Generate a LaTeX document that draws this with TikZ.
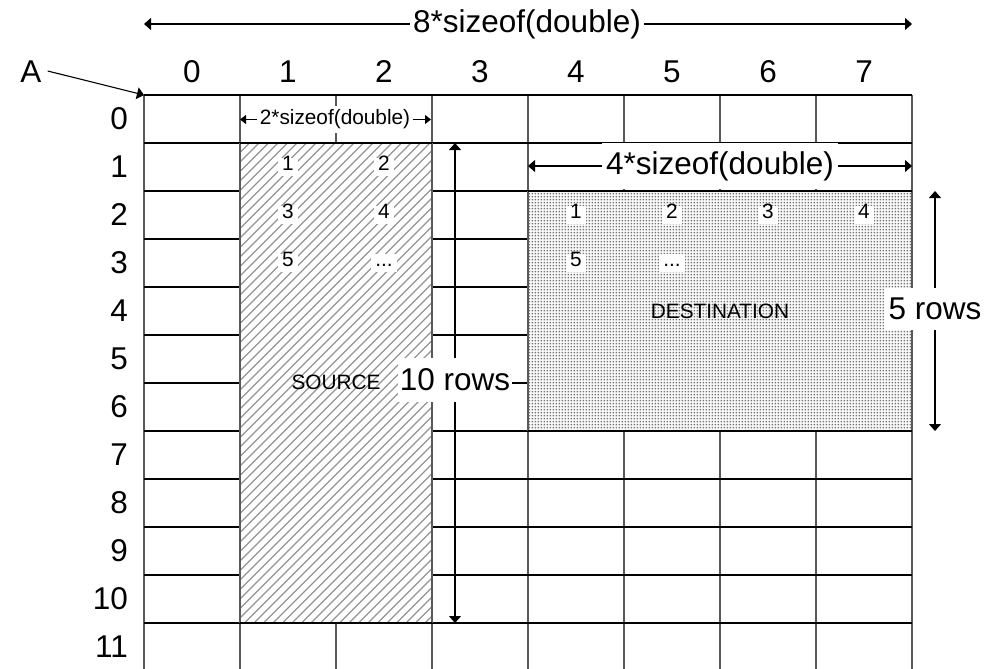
\documentclass[tikz,border=0pt]{standalone}
\usepackage{fontspec}
\setmainfont{Liberation Sans}
\usetikzlibrary{arrows.meta,patterns}
\pgfdeclarepatternformonly{sqdots}{\pgfpointorigin}{\pgfqpoint{3.3pt}{3.3pt}}{\pgfqpoint{3.3pt}{3.3pt}}{%
  \pgfpathrectangle{\pgfqpoint{0.7pt}{0.7pt}}{\pgfqpoint{1.9pt}{1.9pt}}\pgfusepath{fill}}
\begin{document}
\begin{tikzpicture}[x=1pt,y=-1pt,
  hl/.style={line width=1.2pt,black},
  vl/.style={line width=1.3pt,black!65},
  hatchline/.style={line width=1.2pt,black!42},
  big/.style={font=\fontsize{31.5}{36}\selectfont,inner sep=0pt},
  small/.style={font=\fontsize{20.8}{24}\selectfont,inner sep=0pt},
  lab/.style={big,fill=white,inner xsep=3pt,inner ysep=5pt},
  cellnum/.style={small,fill=white,inner xsep=4pt,inner ysep=5pt,text height=0.72em,text depth=0pt},
  arr/.style={line width=1.1pt,-{Triangle[length=7pt,width=12pt]}},
  sarr/.style={line width=1pt,-{Triangle[length=6pt,width=9pt]}}
]
\useasboundingbox (0,0) rectangle (985,669);
\fill[white] (0,0) rectangle (985,669);

% grid
\foreach \i in {0,...,8} \draw[vl] ({144+96*\i},95) -- ({144+96*\i},669);
\foreach \j in {0,...,11} \draw[hl] (144,{95+48*\j}) -- (912,{95+48*\j});

% source region
\fill[white] (240,143) rectangle (432,623);
\begin{scope}
  \clip (240,143) rectangle (432,623);
  \foreach \k in {0,...,72} \draw[hatchline] ({-240+9.5*\k},623) -- ++(480,-480);
\end{scope}
\draw[vl] (240,143) -- (240,623);
\draw[vl] (432,143) -- (432,623);
\draw[hl] (240,143) -- (432,143);
\draw[hl] (240,623) -- (432,623);

% destination region
\fill[white] (528,191) rectangle (912,431);
\fill[pattern=sqdots,pattern color=black!55] (528,191) rectangle (912,431);
\draw[vl] (528,191) -- (528,431);
\draw[vl] (912,191) -- (912,431);
\draw[hl] (528,191) -- (912,191);
\draw[hl] (528,431) -- (912,431);

% headers
\foreach \i in {0,...,7} \node[big] (c\i) at ({192+96*\i},72) {\i};
\foreach \j in {0,...,11} \node[big,anchor=east] (r\j) at (128,{119+48*\j}) {\j};

% A
\node[big] (A) at (31,72) {A};
\coordinate (Acorner) at (144,95);
\draw[arr] ([xshift=6pt,yshift=1pt]A.east) -- (Acorner);

% 8*sizeof(double)
\node[lab] (L8) at (527,24) {8*sizeof(double)};
\coordinate (L8a) at (144,24);
\coordinate (L8b) at (912,24);
\draw[arr] (L8) -- (L8a);
\draw[arr] (L8) -- (L8b);

% 2*sizeof(double)
\node[small,fill=white,inner xsep=3pt,minimum height=27pt] (L2) at (335,119.5) {2*sizeof(double)};
\coordinate (L2a) at (240,119.5);
\coordinate (L2b) at (431,119.5);
\draw[sarr] (L2) -- (L2a);
\draw[sarr] (L2) -- (L2b);

% 4*sizeof(double)
\node[lab,inner xsep=4pt,minimum height=46pt] (L4) at (720,166) {4*sizeof(double)};
\coordinate (L4a) at (528,166);
\coordinate (L4b) at (912,166);
\draw[arr] (L4) -- (L4a);
\draw[arr] (L4) -- (L4b);

% 10 rows
\node[lab,inner xsep=2pt,minimum height=44pt] (L10) at (455,380) {10 rows};
\coordinate (T10a) at (455,143);
\coordinate (T10b) at (455,623);
\draw[arr] (L10) -- (T10a);
\draw[arr] (L10) -- (T10b);

% 5 rows
\node[lab,inner xsep=5pt,minimum height=42pt] (L5) at (935,309) {5 rows};
\coordinate (T5a) at (935,191);
\coordinate (T5b) at (935,431);
\draw[arr] (L5) -- (T5a);
\draw[arr] (L5) -- (T5b);

% source cells
\node[cellnum] (s1) at (288,167) {1};
\node[cellnum] (s2) at (384,167) {2};
\node[cellnum] (s3) at (288,215) {3};
\node[cellnum] (s4) at (384,215) {4};
\node[cellnum] (s5) at (288,263) {5};
\node[cellnum] (s6) at (384,263) {...};
\node[small] (src) at (336,382) {SOURCE};

% destination cells
\node[cellnum] (d1) at (576,215) {1};
\node[cellnum] (d2) at (672,215) {2};
\node[cellnum] (d3) at (768,215) {3};
\node[cellnum] (d4) at (864,215) {4};
\node[cellnum] (d5) at (576,263) {5};
\node[cellnum] (d6) at (672,263) {...};
\node[small] (dst) at (720,311) {DESTINATION};
\end{tikzpicture}
\end{document}
